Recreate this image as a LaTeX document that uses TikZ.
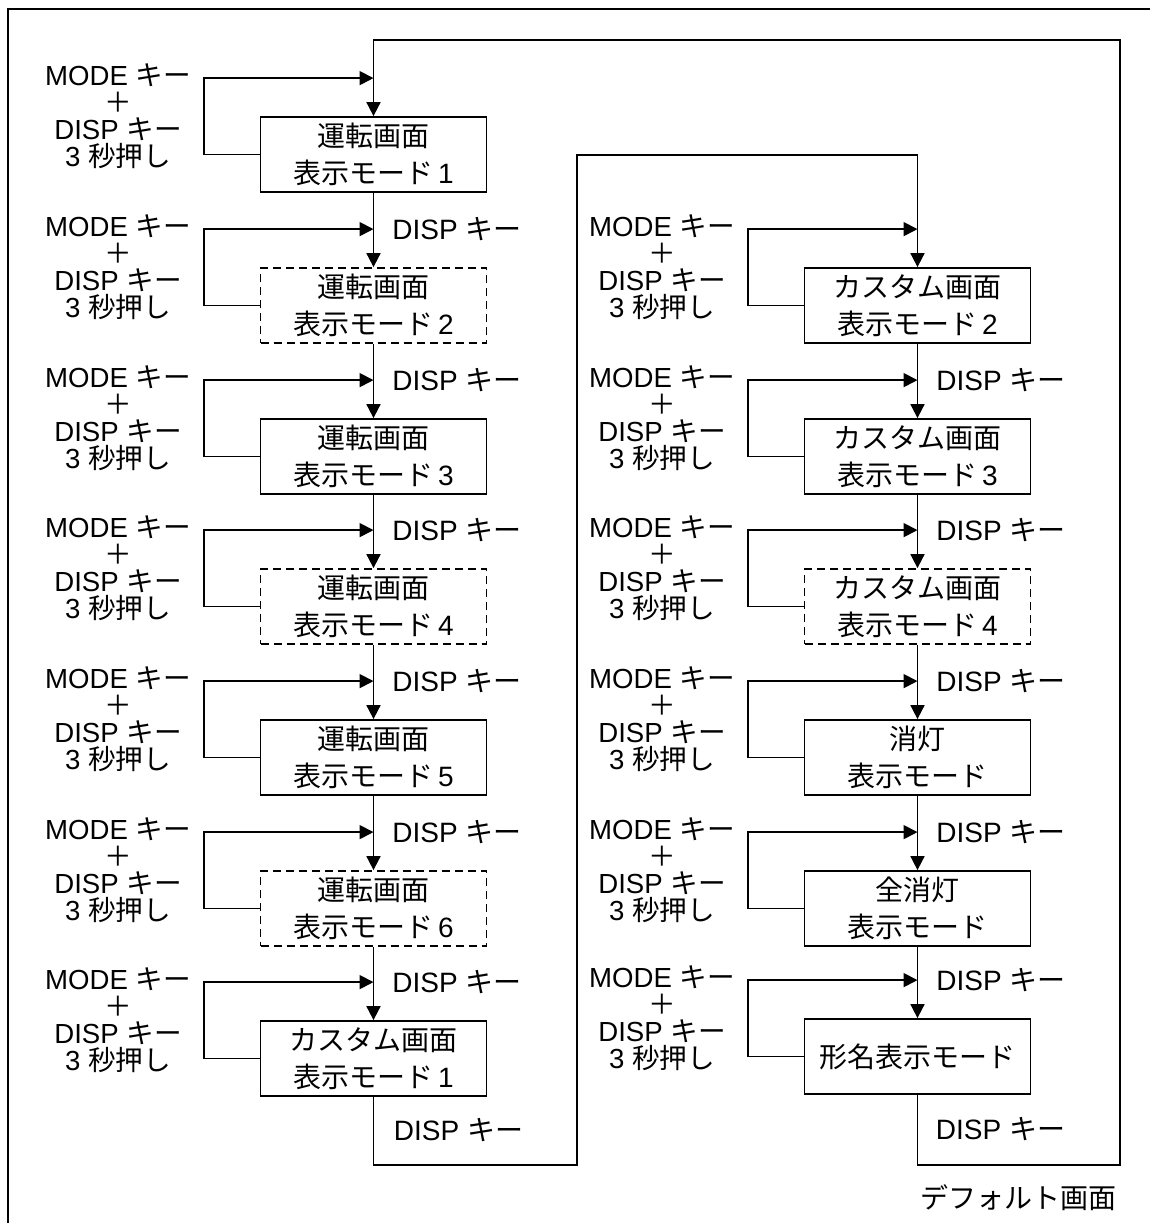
\documentclass[tikz,border=0pt]{standalone}
\usepackage{fontspec}
\setmainfont{Liberation Sans}
\newfontfamily\jp{Noto Sans CJK JP}
\usetikzlibrary{arrows.meta}
\newcommand{\ky}{{\jp キー}}
\newcommand{\mdlbl}{MODE \ky\\{\jp ＋}\\DISP \ky\\3 {\jp 秒押し}}
\tikzset{
  scrbox/.style={draw, line width=0.9pt, minimum width=113pt, minimum height=37.5pt,
    inner sep=0pt, align=center, font=\fontsize{14}{18.5}\selectfont},
  dashbox/.style={scrbox, dash pattern=on 4pt off 2.5pt},
  keylbl/.style={inner sep=0pt, align=center, font=\fontsize{13.8}{13.4}\selectfont},
  displbl/.style={inner sep=0pt, anchor=west, font=\fontsize{14}{14}\selectfont}
}
\begin{document}
\begin{tikzpicture}[x=0.5pt,y=-0.5pt,line width=0.9pt,>={Triangle[length=7pt,width=7pt]}]
\useasboundingbox (0,0) rectangle (1150,1223);
% outer frame (right and bottom edges lie off the page)
\draw (8,1240) -- (8,9) -- (1170,9);

% left column
\node[scrbox]  (L1) at (373.5,154.5)  {{\jp 運転画面}\\{\jp 表示モード}\hspace{2.5pt}1};
\node[dashbox] (L2) at (373.5,305.5)  {{\jp 運転画面}\\{\jp 表示モード}\hspace{2.5pt}2};
\node[scrbox]  (L3) at (373.5,456.5)  {{\jp 運転画面}\\{\jp 表示モード}\hspace{2.5pt}3};
\node[dashbox] (L4) at (373.5,606.5)  {{\jp 運転画面}\\{\jp 表示モード}\hspace{2.5pt}4};
\node[scrbox]  (L5) at (373.5,757.5)  {{\jp 運転画面}\\{\jp 表示モード}\hspace{2.5pt}5};
\node[dashbox] (L6) at (373.5,908.5)  {{\jp 運転画面}\\{\jp 表示モード}\hspace{2.5pt}6};
\node[scrbox]  (L7) at (373.5,1058.5) {{\jp カスタム画面}\\{\jp 表示モード}\hspace{2.5pt}1};

% right column
\node[scrbox]  (R2) at (917.5,305.5)  {{\jp カスタム画面}\\{\jp 表示モード}\hspace{2.5pt}2};
\node[scrbox]  (R3) at (917.5,456.5)  {{\jp カスタム画面}\\{\jp 表示モード}\hspace{2.5pt}3};
\node[dashbox] (R4) at (917.5,606.5)  {{\jp カスタム画面}\\{\jp 表示モード}\hspace{2.5pt}4};
\node[scrbox]  (R5) at (917.5,757.5)  {{\jp 消灯}\\{\jp 表示モード}};
\node[scrbox]  (R6) at (917.5,908.5)  {{\jp 全消灯}\\{\jp 表示モード}};
\node[scrbox]  (R7) at (917.5,1056.5) {{\jp 形名表示モード}};

% join points, MODE+DISP labels and self loops
\foreach \c/\i/\lx in {L/1/118,L/2/118,L/3/118,L/4/118,L/5/118,L/6/118,L/7/118,
                       R/2/662,R/3/662,R/4/662,R/5/662,R/6/662,R/7/662}{
  \path (\c\i.north) ++(0,-38) coordinate (j\c\i);
  \node[keylbl] (m\c\i) at (\lx,0 |- \c\i.north) {\mdlbl};
  \draw[->] (\c\i.west) -- ++(-56,0) |- (j\c\i);
}

% DISP labels along the columns
\foreach \n in {L2,L3,L4,L5,L6,L7,R3,R4,R5,R6,R7}
  \node[displbl] (d\n) at ([xshift=9pt]j\n) {DISP \ky};

% straight steps
\draw[->] (L1) -- (L2);
\draw[->] (L2) -- (L3);
\draw[->] (L3) -- (L4);
\draw[->] (L4) -- (L5);
\draw[->] (L5) -- (L6);
\draw[->] (L6) -- (L7);
\draw[->] (R2) -- (R3);
\draw[->] (R3) -- (R4);
\draw[->] (R4) -- (R5);
\draw[->] (R5) -- (R6);
\draw[->] (R6) -- (R7);

% left column to right column
\coordinate (tA) at (577,1165);
\coordinate (tB) at (917.5,155);
\draw[->] (L7.south) |- (tA) |- (tB) -- (R2.north);
\node[displbl] (dL8) at (393,1130) {DISP \ky};

% back to the default screen
\coordinate (tC) at (1120,1165);
\coordinate (tD) at (373.5,40);
\draw[->] (R7.south) |- (tC) |- (tD) -- (L1.north);
\node[displbl] (dR8) at (935,1129) {DISP \ky};
\node[displbl, anchor=center] (dflt) at (1018,1198) {{\jp デフォルト画面}};
\end{tikzpicture}
\end{document}
